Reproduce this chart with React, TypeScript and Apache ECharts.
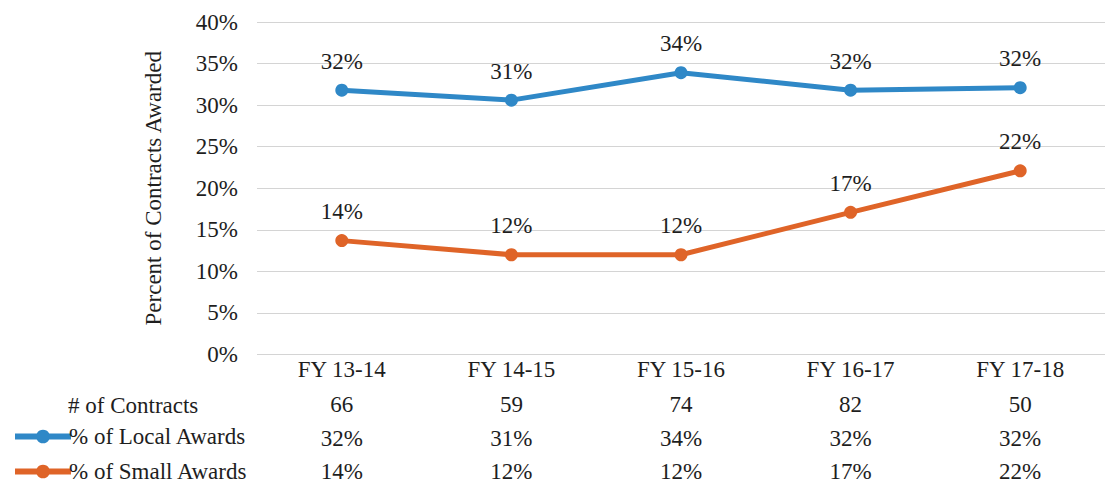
import React, { useEffect, useRef } from "react";
import * as echarts from "echarts";

const categories = ["FY 13-14", "FY 14-15", "FY 15-16", "FY 16-17", "FY 17-18"];
const contracts = [66, 59, 74, 82, 50];
const localAwards = [31.8, 30.6, 33.9, 31.8, 32.1];
const smallAwards = [13.7, 12.0, 12.0, 17.1, 22.1];
const localLabels = ["32%", "31%", "34%", "32%", "32%"];
const smallLabels = ["14%", "12%", "12%", "17%", "22%"];
const seriesNames = ["% of Local Awards", "% of Small Awards"];
const yTicks = { min: 0, max: 40, interval: 5 };

const FONT = "Liberation Serif, Times New Roman, DejaVu Serif, serif";
const FS = 23;
const TXT = "#1e1e1e";
const BLUE = "#2f88c7";
const ORANGE = "#df6428";

export default function App() {
  const ref = useRef<HTMLDivElement>(null);
  useEffect(() => {
    const chart = echarts.init(ref.current!, null, { renderer: "svg" });
    const tableAxis = (data: (string | number)[], offset: number) => ({
      type: "category",
      data: data.map(String),
      position: "bottom",
      offset,
      axisLine: { show: false },
      axisTick: { show: false },
      splitLine: { show: false },
      axisLabel: { fontFamily: FONT, fontSize: FS, color: TXT, margin: 5, interval: 0 },
    });
    const legendFor = (name: string, top: number) => ({
      orient: "horizontal",
      left: 12,
      top,
      padding: 0,
      itemWidth: 56,
      itemHeight: 17,
      lineStyle: { width: 6 },
      textStyle: { fontFamily: FONT, fontSize: FS, color: TXT, padding: [0, 0, 0, -7] },
      data: [name],
    });
    const labelFor = (labels: string[]) => ({
      show: true,
      position: "top",
      distance: 11,
      formatter: (p: any) => labels[p.dataIndex],
      fontFamily: FONT,
      fontSize: FS,
      color: TXT,
    });
    chart.setOption({
      animation: false,
      backgroundColor: "#ffffff",
      textStyle: { fontFamily: FONT },
      grid: { left: 257, top: 22, width: 860, height: 333, containLabel: false },
      legend: [legendFor(seriesNames[0], 425), legendFor(seriesNames[1], 460)],
      xAxis: [
        {
          type: "category",
          data: categories,
          axisLine: { show: false },
          axisTick: { show: false },
          splitLine: { show: false },
          axisLabel: { fontFamily: FONT, fontSize: FS, color: TXT, margin: 3, interval: 0 },
        },
        tableAxis(contracts, 33.5),
        tableAxis(localLabels, 67.5),
        tableAxis(smallLabels, 100.5),
      ],
      yAxis: {
        type: "value",
        min: yTicks.min,
        max: yTicks.max,
        interval: yTicks.interval,
        name: "Percent of Contracts Awarded",
        nameLocation: "middle",
        nameRotate: 90,
        nameGap: 92,
        nameTextStyle: { fontFamily: FONT, fontSize: FS, color: TXT },
        axisLine: { show: false },
        axisTick: { show: false },
        axisLabel: { formatter: "{value}%", fontFamily: FONT, fontSize: FS, color: TXT, margin: 19 },
        splitLine: { lineStyle: { color: "#d4d4d4", width: 1 } },
      },
      graphic: [
        {
          type: "text",
          x: 68,
          y: 405,
          style: {
            text: "# of Contracts",
            fontFamily: FONT,
            fontSize: FS,
            fill: TXT,
            align: "left",
            verticalAlign: "middle",
          },
        },
      ],
      series: [
        {
          name: seriesNames[0],
          type: "line",
          data: localAwards,
          symbol: "circle",
          symbolSize: 13,
          lineStyle: { color: BLUE, width: 5 },
          itemStyle: { color: BLUE },
          label: labelFor(localLabels),
        },
        {
          name: seriesNames[1],
          type: "line",
          data: smallAwards,
          symbol: "circle",
          symbolSize: 13,
          lineStyle: { color: ORANGE, width: 5 },
          itemStyle: { color: ORANGE },
          label: labelFor(smallLabels),
        },
      ],
    });
    return () => chart.dispose();
  }, []);
  return (
    <div
      ref={ref}
      style={{ position: "absolute", left: 0, top: 0, width: 1105, height: 483 }}
    />
  );
}
